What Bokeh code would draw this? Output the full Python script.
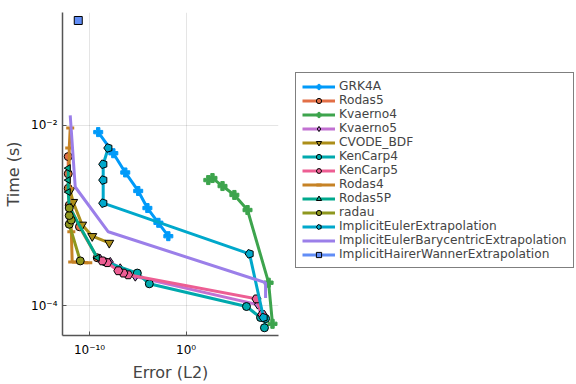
import numpy as np
from bokeh.plotting import figure
from bokeh.layouts import row
from bokeh.models import Range1d, FixedTicker, Legend, LegendItem, CustomJSTickFormatter
from bokeh.embed import file_html
from bokeh.resources import INLINE

# ---------------- data (Error (L2), Time (s)) ----------------
grk4a_err = [7.9e-10, 2.9e-8, 5.0e-7, 1.1e-5, 9.8e-5, 1.35e-3, 1.45e-2]
grk4a_time = [8.4e-3, 4.9e-3, 3.0e-3, 1.87e-3, 1.21e-3, 8.3e-4, 5.9e-4]

rodas5_err = [6.3e-10, 9.0e-12, 7.9e-13, 6.2e-13, 6.2e-13, 6.2e-13]
rodas5_time = [3.4e-4, 7.5e-4, 1.3e-3, 2.0e-3, 2.9e-3, 4.5e-3]

kvaerno4_err = [8.9e8, 3.5e8, 2.3e6, 1.0e5, 5.9e3, 5.4e2, 2.0e2]
kvaerno4_time = [6.3e-5, 1.8e-4, 1.15e-3, 1.69e-3, 2.12e-3, 2.6e-3, 2.47e-3]

kvaerno5_err = [7.9e7, 2.5e7, 5.5e-6, 1.5e-7, 1.4e-8, 1.3e-9]
kvaerno5_time = [7.4e-5, 1.03e-4, 2.1e-4, 2.6e-4, 3.06e-4, 3.3e-4]

cvode_err = [1.1e-8, 1.9e-10, 1.7e-11, 2.0e-12, 1.0e-12]
cvode_time = [4.97e-4, 5.9e-4, 7.9e-4, 1.41e-3, 1.9e-3]

kencarp4_err = [1.3e8, 1.7e8, 5.1e7, 1.8e6, 1.55e-4, 8.9e-6, 4.3e-9]
kencarp4_time = [5.7e-5, 7.2e-5, 7.4e-5, 9.8e-5, 1.75e-4, 2.3e-4, 3.06e-4]

kencarp5_err = [7.9e7, 1.95e7, 1.0e-6, 3.2e-7, 9.5e-8, 6.9e-9, 2.1e-9]
kencarp5_time = [8.0e-5, 1.19e-4, 2.2e-4, 2.3e-4, 2.44e-4, 3.0e-4, 3.14e-4]

rodas4_err = [7.4e-11, 1.6e-12, 1.3e-12, 7.9e-13, 7.9e-13, 1.0e-12]
rodas4_time = [3.0e-4, 3.06e-4, 6.6e-4, 2.0e-3, 5.6e-3, 9.3e-3]

rodas5p_err = [6.3e-10, 7.9e-13, 6.2e-13, 6.2e-13, 6.2e-13]
rodas5p_time = [3.4e-4, 1.24e-3, 1.82e-3, 2.47e-3, 3.35e-3]

radau_err = [1.1e-11, 7.9e-13, 1.26e-12, 7.9e-13, 7.9e-13]
radau_time = [3.14e-4, 8.0e-4, 8.9e-4, 1.0e-3, 1.21e-3]

iee_err = [1.05e8, 3.7e6, 2.6e-9, 2.6e-9, 2.6e-9, 8.7e-9]
iee_time = [7.4e-5, 3.76e-4, 1.37e-3, 2.47e-3, 3.7e-3, 5.6e-3]

iebe_err = [1.0e-12, 3.3e-12, 8.7e-9, 1.7e8, 1.7e8]
iebe_time = [1.29e-2, 2.07e-3, 6.6e-4, 1.8e-4, 1.22e-4]

ihwe_err = [6.8e-12]
ihwe_time = [0.145]

x_ticks = [1e-10, 1e0]
y_ticks = [1e-4, 1e-2]

series = [
    ("GRK4A", grk4a_err, grk4a_time, "#009AF9", "plus"),
    ("Rodas5", rodas5_err, rodas5_time, "#E26F46", "circle"),
    ("Kvaerno4", kvaerno4_err, kvaerno4_time, "#3DA44D", "plus"),
    ("Kvaerno5", kvaerno5_err, kvaerno5_time, "#C271D2", "diamond"),
    ("CVODE_BDF", cvode_err, cvode_time, "#AC8E18", "inverted_triangle"),
    ("KenCarp4", kencarp4_err, kencarp4_time, "#00A9AD", "circle"),
    ("KenCarp5", kencarp5_err, kencarp5_time, "#ED5E93", "hex"),
    ("Rodas4", rodas4_err, rodas4_time, "#C68225", "dash"),
    ("Rodas5P", rodas5p_err, rodas5p_time, "#00A98D", "ltriangle"),
    ("radau", radau_err, radau_time, "#8E971E", "circle"),
    ("ImplicitEulerExtrapolation", iee_err, iee_time, "#00A8CB", "pentagon"),
    ("ImplicitEulerBarycentricExtrapolation", iebe_err, iebe_time, "#9B7FE9", None),
    ("ImplicitHairerWannerExtrapolation", ihwe_err, ihwe_time, "#618DF6", "square"),
]

FONT = "DejaVu Sans"

sup_fmt = CustomJSTickFormatter(code="""
const e = Math.round(Math.log10(tick));
const m = {'-': '\u207b', '0': '\u2070', '1': '\u00b9', '2': '\u00b2', '3': '\u00b3', '4': '\u2074',
           '5': '\u2075', '6': '\u2076', '7': '\u2077', '8': '\u2078', '9': '\u2079'};
return '10' + String(e).split('').map(c => m[c]).join('');
""")

p = figure(width=286, height=384, x_axis_type="log", y_axis_type="log",
           x_range=Range1d(10**-12.8, 10**9.57), y_range=Range1d(10**-4.33, 10**-0.75),
           output_backend="svg", toolbar_location=None,
           min_border_left=62, min_border_right=8, min_border_top=12, min_border_bottom=48)
p.outline_line_color = None
p.background_fill_color = "white"

for ax in (p.xaxis[0], p.yaxis[0]):
    ax.formatter = sup_fmt
    ax.axis_line_color = "#555555"
    ax.axis_line_width = 1.5
    ax.major_tick_in = 4
    ax.major_tick_out = 0
    ax.minor_tick_in = 0
    ax.minor_tick_out = 0
    ax.major_tick_line_color = "#555555"
    ax.minor_tick_line_color = None
    ax.major_label_text_font = FONT
    ax.major_label_text_font_size = "12px"
    ax.major_label_text_color = "black"
    ax.axis_label_text_font = FONT
    ax.axis_label_text_font_size = "16px"
    ax.axis_label_text_font_style = "normal"

p.xaxis[0].ticker = FixedTicker(ticks=x_ticks, minor_ticks=[])
p.yaxis[0].ticker = FixedTicker(ticks=y_ticks, minor_ticks=[])
p.xaxis[0].axis_label = "Error (L2)"
p.yaxis[0].axis_label = "Time (s)"
p.xaxis[0].major_label_standoff = 7
p.yaxis[0].major_label_standoff = 5
p.xaxis[0].axis_label_standoff = 3
p.yaxis[0].axis_label_standoff = 5

p.xgrid.grid_line_color = "black"
p.xgrid.grid_line_alpha = 0.1
p.ygrid.grid_line_color = "black"
p.ygrid.grid_line_alpha = 0.1

# legend panel: an axis-less figure whose ranges exclude all data (glyphs only show in the legend)
lf = figure(width=290, height=384, output_backend="svg", toolbar_location=None,
            x_range=Range1d(-2, -1), y_range=Range1d(-2, -1),
            min_border_left=0, min_border_right=0, min_border_top=12, min_border_bottom=48)
lf.axis.visible = False
lf.grid.visible = False
lf.outline_line_color = None


def add_glyphs(fig, xs, ys, color, marker):
    rs = [fig.line(xs, ys, line_color=color, line_width=3)]
    if marker == "plus":
        rs.append(fig.scatter(xs, ys, marker="plus", size=9, fill_color=color, line_color=color, line_width=1))
    elif marker == "dash":
        rs.append(fig.scatter(xs, ys, marker="dash", size=8, line_color=color, line_width=3))
    elif marker == "ltriangle":
        rs.append(fig.scatter(xs, ys, marker="triangle", angle=np.pi / 2, size=7,
                              fill_color=color, line_color="black", line_width=1))
    elif marker == "pentagon":
        rs.append(fig.ngon(xs, ys, radius=4.5, radius_units="screen", n=5, angle=np.pi / 2,
                           fill_color=color, line_color="black", line_width=1))
    elif marker is not None:
        sz = {"circle": 8, "diamond": 9, "inverted_triangle": 9, "hex": 9, "square": 8}[marker]
        rs.append(fig.scatter(xs, ys, marker=marker, size=sz, fill_color=color,
                              line_color="black", line_width=1))
    return rs


items = []
for name, xs, ys, color, marker in series:
    add_glyphs(p, xs, ys, color, marker)
    rs = add_glyphs(lf, xs, ys, color, marker)
    items.append(LegendItem(label=name, renderers=rs))

legend = Legend(items=items, location=(9, 67), orientation="vertical")
legend.label_text_font = FONT
legend.label_text_font_size = "12.2px"
legend.glyph_width = 33
legend.glyph_height = 13
legend.label_height = 13
legend.spacing = 0
legend.padding = 6
legend.margin = 0
legend.label_standoff = 4
legend.border_line_color = "black"
legend.border_line_width = 1
legend.background_fill_color = "white"
legend.background_fill_alpha = 1
lf.add_layout(legend, "center")

layout = row(p, lf)
open("out.html", "w").write(file_html(layout, INLINE))
